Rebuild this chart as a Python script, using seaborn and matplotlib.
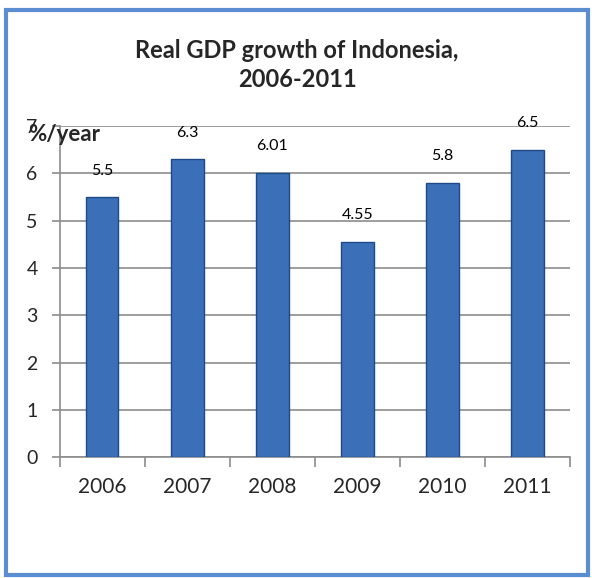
import matplotlib
matplotlib.use("Agg")
import matplotlib.pyplot as plt
import seaborn as sns
import pandas as pd
from matplotlib.patches import Rectangle

years = ["2006", "2007", "2008", "2009", "2010", "2011"]
growth = [5.5, 6.3, 6.01, 4.55, 5.8, 6.5]
value_labels = ["5.5", "6.3", "6.01", "4.55", "5.8", "6.5"]
y_ticks = [0, 1, 2, 3, 4, 5, 6, 7]

sns.set_theme(style="white")
plt.rcParams['font.family'] = ['Lato', 'DejaVu Sans']

df = pd.DataFrame({"year": years, "growth": growth})

fig = plt.figure(figsize=(5.92, 5.78), dpi=100)
ax = fig.add_axes([0.101, 0.209, 0.862, 0.573])

sns.barplot(data=df, x="year", y="growth", color="#3B6FB8", width=0.38,
            saturation=1, edgecolor="#1F4A85", linewidth=1, ax=ax, zorder=3)

ax.set_ylim(0, 7)
ax.set_xlim(-0.5, 5.5)
ax.set_yticks(y_ticks)
ax.yaxis.grid(True, color="#8c8c8c", linewidth=1.2, zorder=0)
ax.set_axisbelow(True)
for s in ["top", "right"]:
    ax.spines[s].set_visible(False)
for s in ["left", "bottom"]:
    ax.spines[s].set_color("#8c8c8c")
    ax.spines[s].set_linewidth(1.2)

ax.set_xticks([i - 0.5 for i in range(7)], minor=False)
ax.set_xticklabels([])
ax.set_xticks(range(6), minor=True)
ax.set_xticklabels(years, minor=True, fontsize=15)
ax.tick_params(axis="x", which="major", direction="out", length=7, color="#8c8c8c", width=1.2, bottom=True)
ax.tick_params(axis="x", which="minor", length=0, pad=14)
ax.tick_params(axis="y", direction="out", length=6, color="#8c8c8c", width=1.2, left=True,
               labelsize=14, pad=10)
ax.set_xlabel("")
ax.set_ylabel("")

ax.bar_label(ax.containers[0], labels=value_labels, padding=14, fontsize=11.5, color="black")

ax.text(-0.062, 0.975, "%/year", transform=ax.transAxes, fontsize=16, fontweight="bold",
        ha="left", va="center")

fig.text(0.502, 0.888, "Real GDP growth of Indonesia,\n2006-2011", ha="center", va="center",
         fontsize=17, fontweight="bold", linespacing=1.3)

fig.patches.append(Rectangle((0.010, 0.006), 0.984, 0.977, transform=fig.transFigure,
                             fill=False, edgecolor="#5B8ED0", linewidth=3))

fig.savefig("out.png", dpi=100)
